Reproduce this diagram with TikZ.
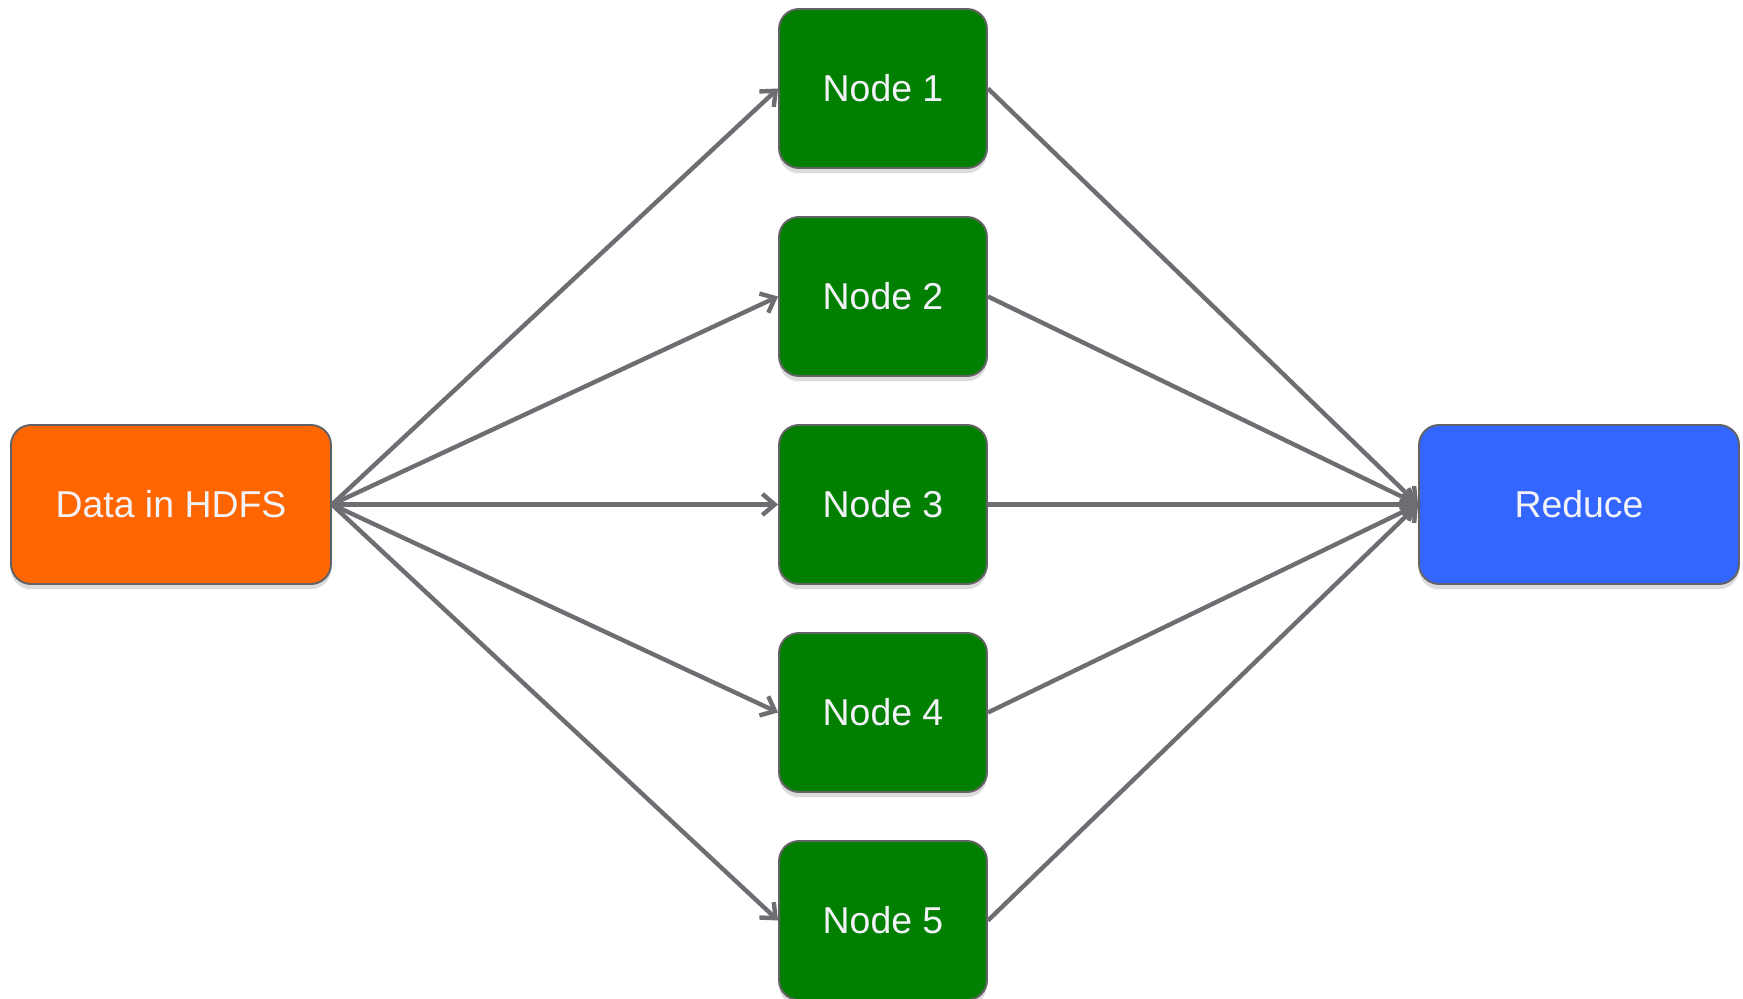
\documentclass[tikz,border=0pt]{standalone}
\usepackage{fontspec}
\setmainfont{Liberation Sans}
\usetikzlibrary{arrows.meta,shadows}
\definecolor{hdfsorange}{HTML}{FF6600}
\definecolor{mapgreen}{HTML}{007F00}
\definecolor{reduceblue}{HTML}{3366FF}
\definecolor{edgegray}{HTML}{6E6E72}
\definecolor{labelwhite}{HTML}{F2F2F8}
\tikzset{
  box/.style={draw=edgegray!90!black, line width=1.1pt, rounded corners=0.4cm,
    text=labelwhite, font=\fontsize{21.3}{25}\selectfont, inner sep=0pt,
    drop shadow={opacity=0.28, shadow xshift=0pt, shadow yshift=-3pt}},
  bigbox/.style={box, minimum width=6.4cm, minimum height=3.18cm},
  mapbox/.style={box, fill=mapgreen, minimum width=4.16cm, minimum height=3.18cm},
  flow/.style={draw=edgegray, line width=2.5pt,
    -{Straight Barb[length=7pt, width=12pt, line width=2.5pt]}}
}
\begin{document}
\begin{tikzpicture}[x=0.02cm,y=-0.02cm]
\useasboundingbox (0,0) rectangle (1743,999);
\node[bigbox, fill=hdfsorange] (data) at (171,504.5) {Data in HDFS};
\node[bigbox, fill=reduceblue] (reduce) at (1579,504.5) {Reduce};
\foreach \i in {1,...,5} {
  \node[mapbox] (node\i) at (883,{88.5+208*(\i-1)}) {Node \i};
}
\foreach \i in {1,...,5} {
  \draw[flow] (data.east) -- (node\i.west);
  \draw[flow] (node\i.east) -- (reduce.west);
}
\end{tikzpicture}
\end{document}
